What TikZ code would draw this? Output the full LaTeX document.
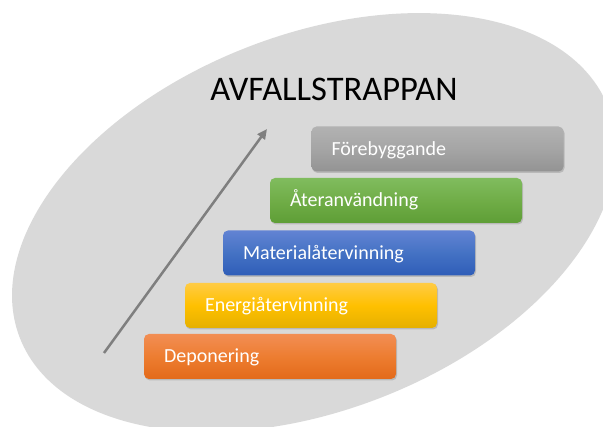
\documentclass[tikz,border=0pt]{standalone}
\usepackage{fontspec}
\setmainfont{Carlito}
\usepackage{tikz}
\usetikzlibrary{shadows,arrows.meta}

\definecolor{ovalgray}{HTML}{D9D9D9}
\definecolor{arrowgray}{HTML}{7F7F7F}
\definecolor{grayTop}{HTML}{B2B2B2}
\definecolor{grayMid}{HTML}{A5A5A5}
\definecolor{grayBot}{HTML}{939393}
\definecolor{greenTop}{HTML}{80BC5E}
\definecolor{greenMid}{HTML}{70AD47}
\definecolor{greenBot}{HTML}{5E9E36}
\definecolor{blueTop}{HTML}{6283D3}
\definecolor{blueMid}{HTML}{4472C4}
\definecolor{blueBot}{HTML}{2F5DB8}
\definecolor{yellowTop}{HTML}{FFCB45}
\definecolor{yellowMid}{HTML}{FFC000}
\definecolor{yellowBot}{HTML}{E5B000}
\definecolor{orangeTop}{HTML}{F28E54}
\definecolor{orangeMid}{HTML}{ED7D31}
\definecolor{orangeBot}{HTML}{E36A1A}

\begin{document}
\begin{tikzpicture}[x=1pt,y=1pt,
	stair/.style={rounded corners=5pt, minimum width=252pt, minimum height=45pt,
		inner xsep=20pt, text width=212pt, align=left, text height=13pt, text depth=0.4pt,
		text=white, font=\fontsize{20}{22}\selectfont,
		drop shadow={shadow xshift=1pt, shadow yshift=-1.5pt, opacity=0.35}}]
	\useasboundingbox (0,0) rectangle (603,427);
	\fill[ovalgray, rotate around={21.5:(314,204.5)}] (314,204.5) ellipse [x radius=316, y radius=187.5];
	\draw (334,326) node[anchor=base, font=\fontsize{34.5}{38}\selectfont] (title) {AVFALLSTRAPPAN};
	\coordinate (arrowS) at (104,74);
	\coordinate (arrowE) at (267,298);
	\draw[arrowgray, line width=2.5pt, -{Triangle[length=10pt,width=9pt]}] (arrowS) -- (arrowE);
	\draw (270,  70.5) node[stair, top color=orangeTop, bottom color=orangeBot, middle color=orangeMid] (depon) {Deponering};
	\draw (311, 121.5) node[stair, top color=yellowTop, bottom color=yellowBot, middle color=yellowMid] (energi) {Energiåtervinning};
	\draw (349, 174)   node[stair, top color=blueTop, bottom color=blueBot, middle color=blueMid] (material) {Materialåtervinning};
	\draw (396, 226.5) node[stair, top color=greenTop, bottom color=greenBot, middle color=greenMid] (ateranv) {Återanvändning};
	\draw (437.5,278)  node[stair, top color=grayTop, bottom color=grayBot, middle color=grayMid] (foreb) {Förebyggande};
\end{tikzpicture}
\end{document}
